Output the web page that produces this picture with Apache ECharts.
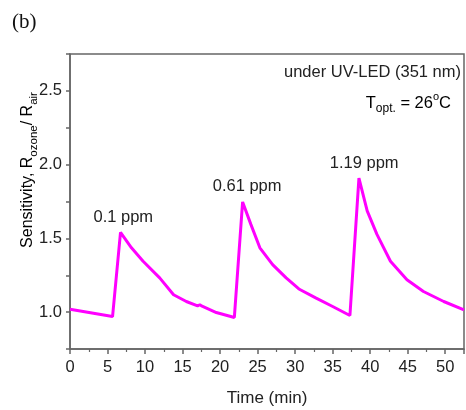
<!DOCTYPE html>
<html>
<head>
<meta charset="utf-8">
<script src="https://cdn.jsdelivr.net/npm/echarts@6/dist/echarts.min.js"></script>
<style>
  html, body { margin: 0; padding: 0; background: #fff; }
  #main { width: 466px; height: 410px; }
</style>
</head>
<body>
<div id="main"></div>
<script>
// time (min) and sensitivity
var timeMin = [0, 5.67, 6.73, 8.19, 9.74, 11.95, 13.8, 15.5, 17.0, 17.3, 17.6, 19.5, 21.9,
  23.0, 24.1, 25.3, 27.0, 28.8, 30.5, 32.8, 35.0, 37.3,
  38.5, 39.6, 40.9, 42.7, 44.9, 47.1, 49.8, 52.5];
var sensitivity = [1.02, 0.97, 1.54, 1.436, 1.345, 1.232, 1.118, 1.072, 1.043, 1.05, 1.04, 0.997, 0.964,
  1.747, 1.595, 1.436, 1.322, 1.232, 1.157, 1.095, 1.038, 0.977,
  1.909, 1.686, 1.527, 1.345, 1.22, 1.14, 1.072, 1.016];

// pulse labels: [time, sensitivity, text]
var pulseLabels = [
  [7.1, 1.643, '0.1 ppm'],
  [23.6, 1.854, '0.61 ppm'],
  [39.2, 2.01, '1.19 ppm']
];

var points = timeMin.map(function (t, i) { return [t, sensitivity[i]]; });

var axisColor = '#666';
var textColor = '#222';
var font = 'Liberation Sans, Arial, sans-serif';

var myChart = echarts.init(document.getElementById('main'));
var option = {
  backgroundColor: '#fff',
  animation: false,
  grid: {
    left: 70, right: 2, top: 54, bottom: 61,
    outerBoundsMode: 'none',
    show: true, borderColor: axisColor, borderWidth: 1.5
  },
  xAxis: {
    type: 'value',
    min: 0, max: 52.5, interval: 5,
    name: 'Time (min)',
    nameLocation: 'middle',
    nameGap: 41,
    nameTextStyle: { fontSize: 17, color: textColor, fontFamily: font },
    axisLine: { lineStyle: { color: axisColor, width: 1.5 } },
    axisTick: { length: 5, inside: false, lineStyle: { color: axisColor, width: 1.5 } },
    minorTick: { show: true, splitNumber: 2, length: 3, lineStyle: { color: axisColor, width: 1.2 } },
    axisLabel: {
      fontSize: 16.5, color: textColor, fontFamily: font, margin: 10,
      formatter: function (v) { return v % 5 === 0 ? String(v) : ''; }
    },
    splitLine: { show: false }
  },
  yAxis: {
    type: 'value',
    min: 0.75, max: 2.75, interval: 0.25,
    axisLine: { lineStyle: { color: axisColor, width: 1.5 } },
    axisTick: { length: 4, lineStyle: { color: axisColor, width: 1.5 } },
    axisLabel: {
      fontSize: 16.5, color: textColor, fontFamily: font, margin: 8,
      formatter: function (v) {
        return Math.abs(v * 2 - Math.round(v * 2)) < 1e-6 ? v.toFixed(1) : '';
      }
    },
    splitLine: { show: false }
  },
  graphic: [
    {
      type: 'text', left: 12, top: 12,
      style: { text: '(b)', font: '21px "Liberation Serif", "Times New Roman", serif', fill: '#111' }
    },
    {
      type: 'text', x: 461, y: 72,
      style: {
        text: 'under UV-LED (351 nm)', align: 'right', verticalAlign: 'middle',
        font: '16.5px ' + font, fill: textColor
      }
    },
    {
      type: 'text', x: 451, y: 103,
      style: {
        text: '{a|T}{s|opt.}{a| = 26}{p|o}{a|C}', align: 'right', verticalAlign: 'middle',
        rich: {
          a: { fontSize: 16.5, fontFamily: font, color: textColor, lineHeight: 24, verticalAlign: 'middle' },
          s: { fontSize: 12, fontFamily: font, color: textColor, lineHeight: 12, verticalAlign: 'bottom' },
          p: { fontSize: 11, fontFamily: font, color: textColor, lineHeight: 11, verticalAlign: 'top' }
        }
      }
    },
    {
      type: 'text', x: 28, y: 170, rotation: Math.PI / 2,
      style: {
        text: '{a|Sensitivity, R}{s|ozone}{a|/ R}{s|air}', align: 'center', verticalAlign: 'middle',
        rich: {
          a: { fontSize: 16, fontFamily: font, color: textColor, lineHeight: 23, verticalAlign: 'middle' },
          s: { fontSize: 11.5, fontFamily: font, color: textColor, lineHeight: 11, verticalAlign: 'bottom' }
        }
      }
    }
  ],
  series: [{
    type: 'line',
    data: points,
    showSymbol: false,
    symbol: 'none',
    lineStyle: { color: '#ff00ff', width: 3 },
    markPoint: {
      symbol: 'circle',
      symbolSize: 0,
      label: {
        show: true, position: 'inside', fontSize: 16.5, color: textColor, fontFamily: font,
        formatter: function (p) { return p.name; }
      },
      data: pulseLabels.map(function (d) { return { name: d[2], coord: [d[0], d[1]] }; })
    }
  }]
};
myChart.setOption(option);
</script>
</body>
</html>
